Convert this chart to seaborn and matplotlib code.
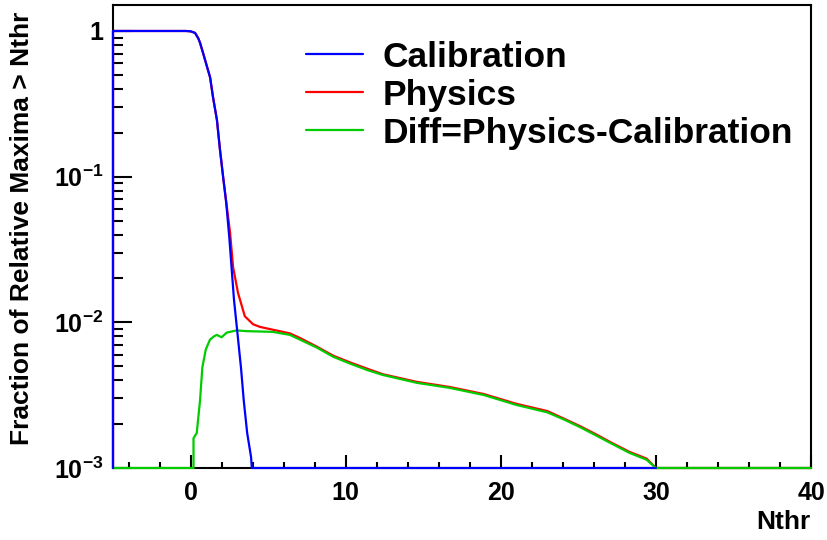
import matplotlib
matplotlib.use("Agg")
import matplotlib.pyplot as plt
import seaborn as sns
from matplotlib.ticker import MultipleLocator, LogLocator, NullFormatter

# Data (fraction of relative maxima above threshold)
calib_x = [-5, -5, -3, -1, -0.3, 0.0, 0.29, 0.5, 0.61, 0.8, 1.26, 1.45, 1.7, 1.9,
           2.1, 2.3, 2.5, 2.8, 3.0, 3.25, 3.43, 3.65, 3.9, 3.95, 30]
calib_y = [0.001, 1, 1, 1, 1, 0.995, 0.97, 0.89, 0.83, 0.71, 0.48, 0.35, 0.245,
           0.152, 0.0995, 0.066, 0.038, 0.0143, 0.0089, 0.0049, 0.0029, 0.00174,
           0.00119, 0.001, 0.001]

phys_x = [-5, -5, -3, -1, -0.3, 0.0, 0.29, 0.5, 0.61, 0.8, 1.26, 1.45, 1.7, 1.9,
          2.1, 2.3, 2.55, 2.74, 3.06, 3.5, 4.03, 4.48, 5.3, 6.4, 7.06, 8.15, 9.2,
          10.3, 11.4, 12.4, 14.6, 16.7, 18.9, 21.0, 23.0, 24.0, 25.1, 26.2, 27.2,
          28.3, 29.4, 30, 40]
phys_y = [0.001, 1, 1, 1, 1, 0.995, 0.97, 0.89, 0.83, 0.71, 0.48, 0.35, 0.245,
          0.152, 0.0995, 0.067, 0.041, 0.024, 0.0159, 0.011, 0.0097, 0.0093, 0.0089,
          0.0084, 0.0078, 0.0068, 0.0059, 0.0053, 0.0048, 0.0044, 0.0039, 0.0036,
          0.00322, 0.00276, 0.00246, 0.0022, 0.00194, 0.00169, 0.00148, 0.00129,
          0.00116, 0.001, 0.001]

diff_x = [-5, 0.19, 0.19, 0.4, 0.61, 0.76, 0.98, 1.25, 1.5, 1.69, 2.0, 2.33, 2.97,
          3.6, 5.3, 6.4, 7.06, 8.15, 9.2, 10.3, 11.4, 12.4, 14.6, 16.7, 18.9, 21.0,
          23.0, 24.0, 25.1, 26.2, 27.2, 28.3, 29.4, 30, 40]
diff_y = [0.001, 0.001, 0.0016, 0.00174, 0.0029, 0.0049, 0.0065, 0.0076, 0.0080,
          0.0082, 0.0079, 0.0085, 0.0088, 0.0087, 0.0086, 0.0082, 0.0076, 0.0067,
          0.0058, 0.0052, 0.0047, 0.00435, 0.00384, 0.00355, 0.00317, 0.00271,
          0.00241, 0.00217, 0.00191, 0.00166, 0.00146, 0.00127, 0.00114, 0.001,
          0.001]

sns.set_style("ticks")
plt.rcParams['font.family'] = ['Liberation Sans', 'DejaVu Sans']
plt.rcParams['font.weight'] = 'bold'
plt.rcParams['text.color'] = 'black'
plt.rcParams['xtick.color'] = 'black'
plt.rcParams['ytick.color'] = 'black'
plt.rcParams['axes.edgecolor'] = 'black'
plt.rcParams['mathtext.fontset'] = 'custom'
plt.rcParams['mathtext.rm'] = 'Liberation Sans:bold'
plt.rcParams['mathtext.bf'] = 'Liberation Sans:bold'
plt.rcParams['mathtext.it'] = 'Liberation Sans:bold'

fig = plt.figure(figsize=(8.27, 5.40), dpi=100)
ax = fig.add_axes([113 / 827, 72 / 540, 698 / 827, 463 / 540])

sns.lineplot(x=phys_x, y=phys_y, color='#ff0000', lw=1.6, sort=False,
             estimator=None, ax=ax, label='Physics', clip_on=False, zorder=3)
sns.lineplot(x=diff_x, y=diff_y, color='#00cc00', lw=1.6, sort=False,
             estimator=None, ax=ax, label='Diff=Physics-Calibration',
             clip_on=False, zorder=3)
sns.lineplot(x=calib_x, y=calib_y, color='#0000ff', lw=1.6, sort=False,
             estimator=None, ax=ax, label='Calibration', clip_on=False, zorder=3)

ax.set_yscale('log')
ax.set_xlim(-5, 40)
ax.set_ylim(1e-3, 1.508)

ax.set_yticks([1e-3, 1e-2, 1e-1, 1],
              labels=[r'$10^{-3}$', r'$10^{-2}$', r'$10^{-1}$', '1'])
ax.yaxis.set_minor_locator(LogLocator(base=10, subs=range(2, 10)))
ax.yaxis.set_minor_formatter(NullFormatter())
ax.xaxis.set_major_locator(MultipleLocator(10))
ax.xaxis.set_minor_locator(MultipleLocator(2))

ax.tick_params(axis='both', which='both', direction='in', width=1.5,
               labelsize=18, top=False, right=False)
ax.tick_params(axis='y', which='major', length=14, pad=7)
ax.tick_params(axis='y', which='minor', length=7)
ax.tick_params(axis='x', which='major', length=9.5, pad=9)
ax.tick_params(axis='x', which='minor', length=4.5)
for lab in ax.get_xticklabels() + ax.get_yticklabels():
    lab.set_fontweight('bold')

for s in ax.spines.values():
    s.set_linewidth(1.5)
    s.set_visible(True)
ax.set_xlabel('')
ax.set_ylabel('')

fig.text(22 / 827, 1 - 12 / 540, 'Fraction of Relative Maxima > Nthr',
         rotation=90, ha='center', va='top', fontsize=19, fontweight='bold')
fig.text(811 / 827, 1 - 522 / 540, 'Nthr', ha='right', va='center',
         fontsize=19, fontweight='bold')

handles, labels = ax.get_legend_handles_labels()
order = [labels.index('Calibration'), labels.index('Physics'),
         labels.index('Diff=Physics-Calibration')]
ax.legend([handles[i] for i in order], [labels[i] for i in order],
          loc='upper left', bbox_to_anchor=(0.2765, 0.923), frameon=False,
          prop={'weight': 'bold', 'size': 25.5},
          handlelength=1.61, handletextpad=0.54, labelspacing=0.14,
          borderpad=0, borderaxespad=0)

fig.savefig('out.png', dpi=100)
